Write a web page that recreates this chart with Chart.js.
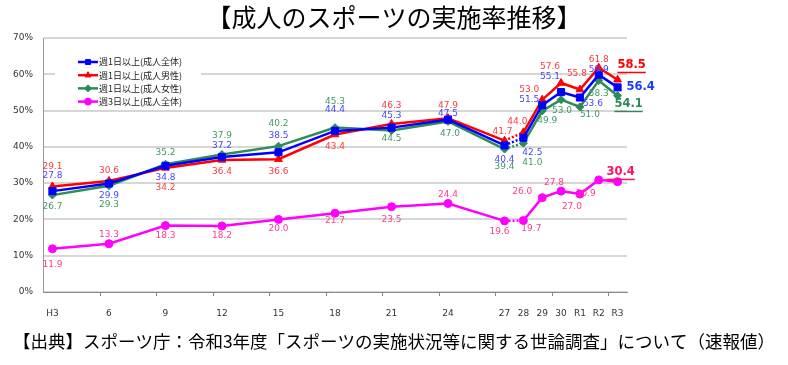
<!DOCTYPE html>
<html>
<head>
<meta charset="utf-8">
<script src="https://cdn.jsdelivr.net/npm/chart.js@4.4.1/dist/chart.umd.min.js"></script>
<style>
  html, body { margin: 0; padding: 0; background: #fff; }
  #wrap { width: 788px; height: 365px; }
</style>
</head>
<body>
<div id="wrap"><canvas id="chartJisshi"></canvas></div>
<script>
// Años de la encuesta (eje x lineal) y etiquetas del eje
const years = [1991, 1994, 1997, 2000, 2003, 2006, 2009, 2012, 2015, 2016, 2017, 2018, 2019, 2020, 2021];
const tickLabels = ['H3', '6', '9', '12', '15', '18', '21', '24', '27', '28', '29', '30', 'R1', 'R2', 'R3'];

// Series (%)
const weekly1All = [27.8, 29.9, 34.8, 37.2, 38.5, 44.4, 45.3, 47.5, 40.4, 42.5, 51.5, 55.1, 53.6, 59.9, 56.4];
const weekly1Male = [29.1, 30.6, 34.2, 36.4, 36.6, 43.4, 46.3, 47.9, 41.7, 44.0, 53.0, 57.6, 55.8, 61.8, 58.5];
const weekly1Female = [26.7, 29.3, 35.2, 37.9, 40.2, 45.3, 44.5, 47.0, 39.4, 41.0, 49.9, 53.0, 51.0, 58.3, 54.1];
const weekly3All = [11.9, 13.3, 18.3, 18.2, 20.0, 21.7, 23.5, 24.4, 19.6, 19.7, 26.0, 27.8, 27.0, 30.9, 30.4];

const seriesNames = ['週1日以上(成人全体)', '週1日以上(成人男性)', '週1日以上(成人女性)', '週3日以上(成人全体)'];

// Posición de cada etiqueta respecto a su punto [dx, dy]
const labelOffsets = [
  [[0,-15],[0,12],[0,12],[0,-11],[0,-17],[0,-21],[0,-12],[0,-6],[0,14],[9,15],[-13,-5],[-11,-15],[13,6],[0,-5],[23,0]],
  [[0,-20],[0,-10],[0,20],[0,12],[0,12],[0,12],[0,-18],[0,-13],[-2,-9],[-6,-11],[-13,-10],[-11,-16],[-3,-16],[0,-8],[14,-15]],
  [[0,12],[0,19],[0,-12],[0,-19],[0,-22],[0,-26],[0,8],[2,12],[0,18],[9,19],[5,10],[1,11],[10,8],[0,13],[11,8]],
  [[0,16],[0,-9],[0,10],[0,10],[0,9],[0,7],[0,13],[0,-9],[-5,11],[8,8],[-20,-6],[-7,-8],[-8,13],[-13,14],[3,-10]]
];
const labelColors = ['#4646ff', '#ff3a3a', '#3f9a66', '#ff3d8b'];
const finalColors = ['#1a3cff', '#ff0000', '#2e8b57', '#ff1060'];
const finalUnderline = [false, true, true, true];

const gapIndex = years.indexOf(2015);
const toPoints = arr => arr.map((v, i) => ({ x: years[i], y: v }));

function makeSet(label, values, color, style, radius) {
  return {
    label: label,
    data: toPoints(values),
    borderColor: color,
    backgroundColor: color,
    pointBackgroundColor: color,
    pointBorderColor: color,
    pointStyle: style,
    pointRadius: radius,
    pointBorderWidth: 1,
    borderWidth: 2.5,
    tension: 0,
    segment: {
      borderDash: c => c.p0DataIndex === gapIndex ? [2, 2] : undefined
    }
  };
}

// Etiquetas de valores
const valueLabels = {
  id: 'valueLabels',
  afterDatasetsDraw(chart) {
    const ctx = chart.ctx;
    chart.data.datasets.forEach((ds, di) => {
      const meta = chart.getDatasetMeta(di);
      meta.data.forEach((pt, i) => {
        const off = labelOffsets[di][i];
        const last = i === ds.data.length - 1;
        const txt = ds.data[i].y.toFixed(1);
        const x = pt.x + off[0];
        const y = pt.y + off[1];
        ctx.save();
        ctx.font = last ? 'bold 11.5px "DejaVu Sans"' : '9px "DejaVu Sans"';
        ctx.fillStyle = last ? finalColors[di] : labelColors[di];
        ctx.textAlign = 'center';
        ctx.textBaseline = 'middle';
        ctx.fillText(txt, x, y);
        if (last && finalUnderline[di]) {
          const w = ctx.measureText(txt).width;
          ctx.fillRect(x - w / 2, y + 7, w, 1.5);
        }
        ctx.restore();
      });
    });
  }
};

// Leyenda dentro del área del gráfico
const boxLegend = {
  id: 'boxLegend',
  afterDraw(chart) {
    const ctx = chart.ctx;
    const a = chart.chartArea;
    ctx.save();
    ctx.fillStyle = '#fff';
    ctx.fillRect(a.left + 12, a.top + 14, 146, 56);
    chart.data.datasets.forEach((ds, i) => {
      const y = a.top + 24 + i * 13.2;
      const x0 = a.left + 35;
      ctx.strokeStyle = ds.borderColor;
      ctx.lineWidth = 2.5;
      ctx.setLineDash([]);
      ctx.beginPath();
      ctx.moveTo(x0, y);
      ctx.lineTo(x0 + 20, y);
      ctx.stroke();
      ctx.fillStyle = ds.borderColor;
      ctx.lineWidth = 1;
      if (Chart.helpers && Chart.helpers.drawPoint) {
        Chart.helpers.drawPoint(ctx, { pointStyle: ds.pointStyle, radius: 3.5, borderWidth: 1, rotation: 0 }, x0 + 10, y);
      } else {
        ctx.beginPath();
        ctx.arc(x0 + 10, y, 3.5, 0, Math.PI * 2);
        ctx.fill();
      }
      ctx.fillStyle = '#222';
      ctx.font = '9px "Noto Sans CJK JP"';
      ctx.textAlign = 'left';
      ctx.textBaseline = 'middle';
      ctx.fillText(seriesNames[i], x0 + 21, y);
    });
    ctx.restore();
  }
};

// Marcas del eje x cada 3 años
const xTickMarks = {
  id: 'xTickMarks',
  afterDraw(chart) {
    const ctx = chart.ctx;
    const sx = chart.scales.x;
    const b = chart.chartArea.bottom;
    ctx.save();
    ctx.strokeStyle = '#888';
    ctx.lineWidth = 1;
    for (let v = years[0] - 0.5 + 3; v < years[years.length - 1] + 0.5; v += 3) {
      const x = Math.round(sx.getPixelForValue(v)) + 0.5;
      ctx.beginPath();
      ctx.moveTo(x, b);
      ctx.lineTo(x, b + 4);
      ctx.stroke();
    }
    ctx.restore();
  }
};

const ctx = document.getElementById('chartJisshi').getContext('2d');

const chartJisshi = new Chart(ctx, {
  type: 'line',
  data: {
    datasets: [
      makeSet(seriesNames[0], weekly1All, '#0000ff', 'rect', 5),
      makeSet(seriesNames[1], weekly1Male, '#ff0000', 'triangle', 4.5),
      makeSet(seriesNames[2], weekly1Female, '#2e8b57', 'rectRot', 4),
      makeSet(seriesNames[3], weekly3All, '#ff00ff', 'circle', 4)
    ]
  },
  options: {
    responsive: true,
    maintainAspectRatio: false,
    animation: false,
    layout: { padding: 0 },
    plugins: {
      legend: { display: false },
      tooltip: { enabled: false },
      title: {
        display: true,
        text: '【成人のスポーツの実施率推移】',
        color: '#000',
        font: { family: '"Noto Sans CJK JP"', size: 25, weight: 'normal' },
        padding: { top: 2, bottom: 6 }
      },
      subtitle: {
        display: true,
        position: 'bottom',
        text: '【出典】スポーツ庁：令和3年度「スポーツの実施状況等に関する世論調査」について（速報値）',
        color: '#000',
        font: { family: '"Noto Sans CJK JP"', size: 17.5, weight: 'normal' },
        padding: { top: 6, bottom: 13 }
      }
    },
    scales: {
      x: {
        type: 'linear',
        min: years[0] - 0.5,
        max: years[years.length - 1] + 0.5,
        afterBuildTicks: s => { s.ticks = years.map(v => ({ value: v })); },
        afterFit: s => { s.height = 33; },
        grid: { display: false },
        border: { display: true, color: '#888', width: 1 },
        ticks: {
          autoSkip: false,
          maxRotation: 0,
          padding: 8,
          color: '#333',
          font: { family: '"DejaVu Sans"', size: 9 },
          callback: (v, i) => tickLabels[i]
        }
      },
      y: {
        min: 0,
        max: 70,
        afterFit: s => { s.width = 43; },
        grid: { color: '#d6d6d6', lineWidth: 2, drawTicks: false },
        border: { display: true, color: '#999', width: 1 },
        ticks: {
          stepSize: 10,
          padding: 10,
          color: '#333',
          font: { family: '"DejaVu Sans"', size: 9 },
          callback: v => v + '%'
        }
      },
      yRight: {
        type: 'linear',
        position: 'right',
        display: true,
        afterFit: s => { s.width = 161; },
        grid: { display: false, drawOnChartArea: false },
        border: { display: false },
        ticks: { display: false }
      }
    }
  },
  plugins: [valueLabels, boxLegend, xTickMarks]
});
</script>
</body>
</html>
